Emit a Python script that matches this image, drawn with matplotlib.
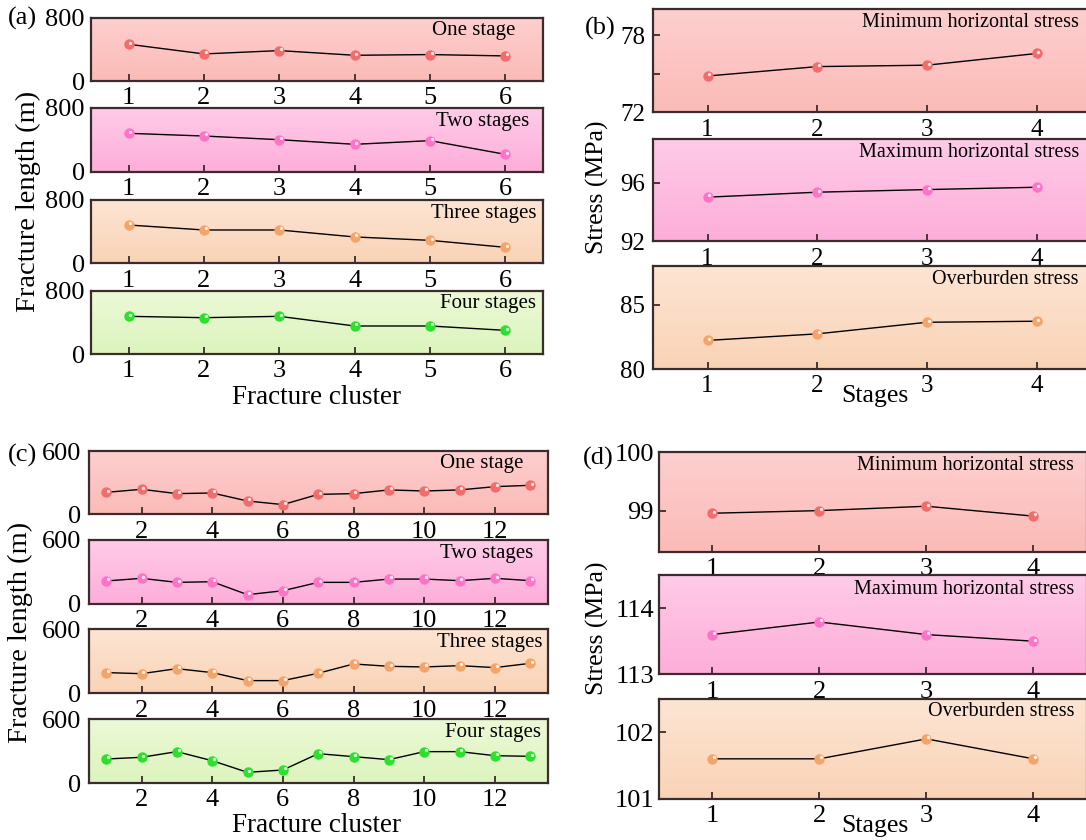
import numpy as np
import matplotlib
matplotlib.use("Agg")
import matplotlib.pyplot as plt
from matplotlib.colors import LinearSegmentedColormap
from matplotlib.transforms import offset_copy

plt.rcParams['font.family'] = ['Liberation Serif', 'DejaVu Serif']
plt.rcParams['mathtext.fontset'] = 'stix'

W, H = 1086, 840

# ---- data ----
clusters_a = [1, 2, 3, 4, 5, 6]
len_a_one = [463, 341, 383, 324, 333, 316]
len_a_two = [482, 448, 402, 344, 390, 218]
len_a_three = [484, 421, 421, 333, 290, 202]
len_a_four = [476, 459, 476, 354, 354, 299]

clusters_c = list(range(1, 14))
len_c_one = [208, 237, 196, 202, 126, 92, 189, 196, 231, 221, 231, 262, 275]
len_c_two = [214, 239, 201, 207, 85, 122, 201, 201, 232, 232, 217, 239, 217]
len_c_three = [194, 184, 231, 194, 119, 119, 188, 275, 253, 247, 259, 241, 281]
len_c_four = [225, 241, 294, 209, 100, 122, 275, 247, 219, 294, 294, 256, 250]

stages = [1, 2, 3, 4]
b_min_h = [74.82, 75.55, 75.66, 76.57]
b_max_h = [95.02, 95.36, 95.54, 95.70]
b_over = [82.22, 82.73, 83.63, 83.71]

d_min_h = [98.955, 99.0, 99.075, 98.905]
d_max_h = [113.6, 113.79, 113.6, 113.5]
d_over = [101.6, 101.6, 101.9, 101.6]

stage_names = ["One stage", "Two stages", "Three stages", "Four stages"]
stress_names = ["Minimum horizontal stress", "Maximum horizontal stress", "Overburden stress"]

# background gradient (top, bottom) and marker colour for each panel row
bg_cols = [("#fdcfcf", "#fbbbb7"), ("#ffcbe8", "#fdaed9"),
           ("#fde5d4", "#f9d3b6"), ("#ecf9d6", "#dcf4bd")]
mk_cols = ["#f26c6c", "#ff73c6", "#f5a469", "#2de02d"]
spine_col = "#3b2b2b"


def add_axes(px_left, px_right, px_top, px_bottom):
    return fig.add_axes([px_left / W, 1 - px_bottom / H,
                         (px_right - px_left) / W, (px_bottom - px_top) / H])


def style_ax(ax, row, x, y, xlim, ylim, yticks, yticklabels, xticks, label,
             lx, ly, tick_fs=19, ypad=4.5, label_fs=15):
    top, bot = bg_cols[row]
    cmap = LinearSegmentedColormap.from_list("bg", [bot, top])
    grad = np.linspace(0, 1, 256).reshape(-1, 1)
    ax.imshow(grad, cmap=cmap, aspect="auto", origin="lower",
              extent=[0, 1, 0, 1], transform=ax.transAxes, zorder=0)
    ax.plot(x, y, color="black", lw=1.0, zorder=2)
    ax.plot(x, y, "o", ms=7.5, color=mk_cols[row], mec="none", zorder=3)
    hl = offset_copy(ax.transData, fig=fig, x=1.2, y=1.2, units="points")
    ax.plot(x, y, "o", ms=2.4, color="white", alpha=0.85, mec="none",
            zorder=4, transform=hl)
    ax.set_xlim(*xlim)
    ax.set_ylim(*ylim)
    ax.set_xticks(xticks)
    ax.set_yticks(yticks)
    ax.set_yticklabels(yticklabels)
    ax.tick_params(direction="in", length=5, width=1.3, colors=spine_col,
                   labelcolor="black", labelsize=tick_fs, pad=4.5)
    ax.tick_params(axis="y", pad=ypad)
    for s in ax.spines.values():
        s.set_color(spine_col)
        s.set_linewidth(1.6)
    ax.text(lx, ly, label, transform=ax.transAxes, ha="right", va="center",
            fontsize=label_fs)


fig = plt.figure(figsize=(W / 100, H / 100), dpi=100)

# ---- (a) ----
rows_a = [(17.5, 81), (108, 171.7), (200, 263.3), (290.7, 354)]
data_a = [len_a_one, len_a_two, len_a_three, len_a_four]
lx_a = [0.938, 0.97, 0.985, 0.985]
for i, (t, b) in enumerate(rows_a):
    ax = add_axes(91, 543, t, b)
    style_ax(ax, i, clusters_a, data_a[i], (0.5, 6.5), (0, 800), [0, 800],
             ["0", "800"], clusters_a, stage_names[i], lx_a[i], 0.79)

# ---- (b) ----
rows_b = [(9.3, 112.3), (139, 241.3), (266, 369)]
data_b = [b_min_h, b_max_h, b_over]
lim_b = [(72, 80), (92, 99), (80, 88)]
ticks_b = [[72, 75, 78], [92, 96], [80, 85]]
tlab_b = [["72", "", "78"], ["92", "96"], ["80", "85"]]
for i, (t, b) in enumerate(rows_b):
    ax = add_axes(652.7, 1091.7, t, b)
    style_ax(ax, i, stages, data_b[i], (0.5, 4.5), lim_b[i], ticks_b[i],
             tlab_b[i], stages, stress_names[i], 0.971, 0.87,
             tick_fs=18, ypad=5.5, label_fs=14.5)

# ---- (c) ----
rows_c = [(451, 514.3), (540, 603.7), (629.3, 693.3), (719, 783)]
data_c = [len_c_one, len_c_two, len_c_three, len_c_four]
lx_c = [0.946, 0.967, 0.987, 0.985]
for i, (t, b) in enumerate(rows_c):
    ax = add_axes(88.5, 548, t, b)
    style_ax(ax, i, clusters_c, data_c[i], (0.5, 13.5), (0, 600), [0, 600],
             ["0", "600"], [2, 4, 6, 8, 10, 12], stage_names[i], lx_c[i], 0.795,
             ypad=5)

# ---- (d) ----
rows_d = [(452.3, 552), (575, 674.3), (699, 798.7)]
data_d = [d_min_h, d_max_h, d_over]
lim_d = [(98.29, 100), (113, 114.5), (101, 102.5)]
ticks_d = [[99, 100], [113, 114], [101, 102]]
ly_d = [0.863, 0.856, 0.873]
for i, (t, b) in enumerate(rows_d):
    ax = add_axes(658.7, 1087, t, b)
    style_ax(ax, i, stages, data_d[i], (0.5, 4.5), lim_d[i], ticks_d[i],
             [str(v) for v in ticks_d[i]], stages, stress_names[i], 0.97, ly_d[i],
             ypad=3.5, label_fs=14.5)

# ---- labels ----
def ftext(px, py, s, **kw):
    fig.text(px / W, 1 - py / H, s, **kw)

ftext(8, 18, "(a)", fontsize=19, va="center")
ftext(585, 28, "(b)", fontsize=19, va="center")
ftext(8, 455, "(c)", fontsize=19, va="center")
ftext(583, 458, "(d)", fontsize=19, va="center")

ftext(28, 201, "Fracture length (m)", fontsize=20.5, rotation=90, ha="center", va="center")
ftext(20, 632, "Fracture length (m)", fontsize=20.5, rotation=90, ha="center", va="center")
ftext(597, 187, "Stress (MPa)", fontsize=18.5, rotation=90, ha="center", va="center")
ftext(597, 628, "Stress (MPa)", fontsize=18.5, rotation=90, ha="center", va="center")

ftext(317, 398, "Fracture cluster", fontsize=19.5, ha="center", va="center")
ftext(317, 825, "Fracture cluster", fontsize=19.5, ha="center", va="center")
ftext(875, 396, "Stages", fontsize=18.5, ha="center", va="center")
ftext(875, 826, "Stages", fontsize=18.5, ha="center", va="center")

fig.savefig("out.png", dpi=100)
